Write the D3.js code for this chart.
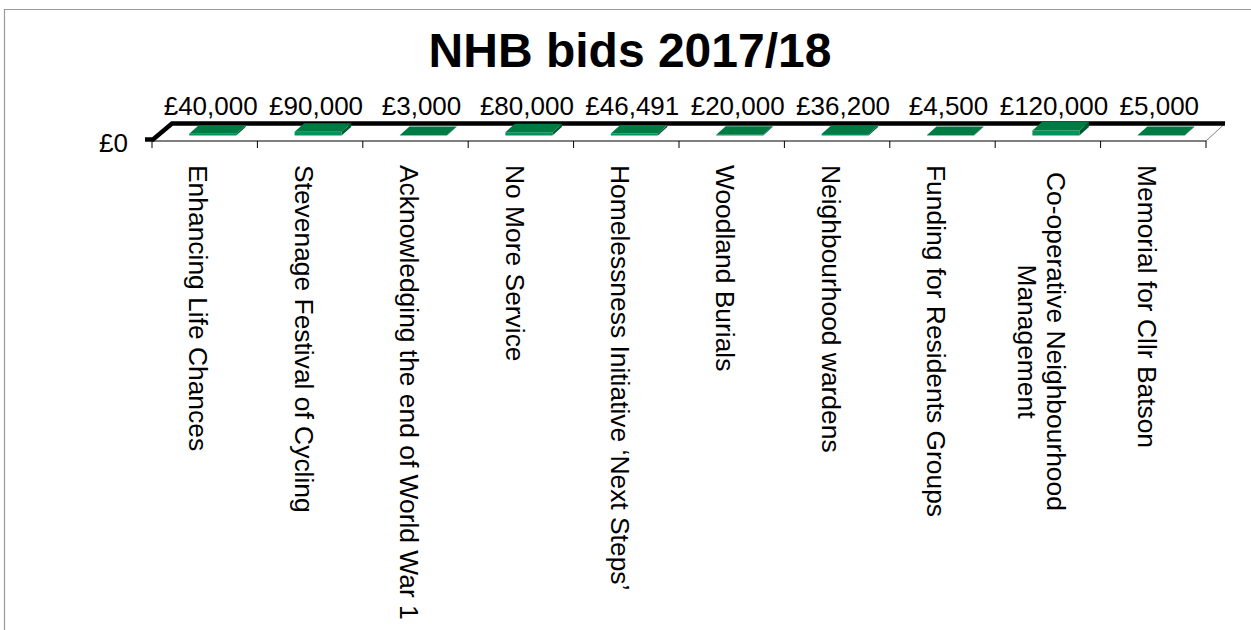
<!DOCTYPE html>
<html>
<head>
<meta charset="utf-8">
<script src="https://cdn.jsdelivr.net/npm/d3@7"></script>
<style>
  html, body { margin: 0; padding: 0; background: #fff; }
  svg { display: block; font-family: Arial, "Liberation Sans", sans-serif; }
</style>
</head>
<body>
<svg id="chart" width="1251" height="630"></svg>
<script>
// ---- data ----
const title = "NHB bids 2017/18";
const categories = [
  "Enhancing Life Chances",
  "Stevenage Festival of Cycling",
  "Acknowledging the end of World War 1",
  "No More Service",
  "Homelessness Initiative \u2018Next Steps\u2019",
  "Woodland Burials",
  "Neighbourhood wardens",
  "Funding for Residents Groups",
  "Co-operative Neighbourhood\nManagement",
  "Memorial for Cllr Batson"
];
const values = [40000, 90000, 3000, 80000, 46491, 20000, 36200, 4500, 120000, 5000];
const valueTicks = [0];

// ---- layout ----
const W = 1251, H = 630;
const svg = d3.select("#chart");
const fmt = v => "\u00a3" + d3.format(",")(v);

const x0 = 152, x1 = 1206, floorY = 141;
const depth = { dx: 19, dy: -17.5 };
const barFront = { dx: 8, dy: -5.5 };
const barDepth = { dx: 9.5, dy: -8.5 };

const x = d3.scaleBand().domain(categories).range([x0, x1]).paddingInner(0).paddingOuter(0);
const hScale = d3.scaleLinear().domain([0, 120000]).range([0, 5]);

// frame
svg.append("path")
  .attr("d", `M4.5,${H} L4.5,9.5 L${W},9.5`)
  .attr("fill", "none").attr("stroke", "#9a9a9a").attr("stroke-width", 1.2);

// title
svg.append("text")
  .attr("x", 630).attr("y", 67)
  .attr("text-anchor", "middle")
  .attr("font-size", 48).attr("font-weight", "bold")
  .attr("fill", "#000")
  .text(title);

// floor front edge
svg.append("line")
  .attr("x1", x0).attr("x2", x1).attr("y1", floorY).attr("y2", floorY)
  .attr("stroke", "#000").attr("stroke-width", 1.2);

// right floor edge (gray)
svg.append("line")
  .attr("x1", x1).attr("y1", floorY).attr("x2", x1 + depth.dx).attr("y2", floorY + depth.dy)
  .attr("stroke", "#808080").attr("stroke-width", 1);

// thick back/left edge
svg.append("path")
  .attr("d", `M145,139.5 L${x0 + 1},139.5 L${x0 + depth.dx + 1},${floorY + depth.dy} L${x1 + depth.dx},${floorY + depth.dy}`)
  .attr("fill", "none").attr("stroke", "#000").attr("stroke-width", 4.5)
  .attr("stroke-linejoin", "miter");

// category tick marks at band boundaries
const bounds = categories.map(c => x(c)).concat([x1]);
svg.append("g").selectAll("line").data(bounds).join("line")
  .attr("x1", d => d).attr("x2", d => d)
  .attr("y1", floorY).attr("y2", floorY + 7)
  .attr("stroke", "#000").attr("stroke-width", 1);

// value axis label
svg.append("g").selectAll("text").data(valueTicks).join("text")
  .attr("x", 128).attr("y", d => 152 - hScale(d))
  .attr("text-anchor", "end")
  .attr("font-size", 26)
  .text(d => fmt(d));

// bars (flat 3D boxes)
const bw = 47;
const bars = svg.append("g");
categories.forEach((c, i) => {
  const v = values[i];
  const h = Math.max(hScale(v), 0.6);
  const cx = x(c) + x.bandwidth() / 2;
  const fl = cx - bw / 2 + barFront.dx;
  const fr = fl + bw;
  const fb = floorY + barFront.dy;   // front bottom
  const ft = fb - h;                 // front top
  const bdx = barDepth.dx, bdy = barDepth.dy;
  bars.append("path")
    .attr("d", `M${fr},${fb} L${fr + bdx},${fb + bdy} L${fr + bdx},${ft + bdy} L${fr},${ft} Z`)
    .attr("fill", "#005a30");
  bars.append("path")
    .attr("d", `M${fl},${fb} L${fr},${fb} L${fr},${ft} L${fl},${ft} Z`)
    .attr("fill", "#00935a");
  bars.append("path")
    .attr("d", `M${fl},${ft} L${fr},${ft} L${fr + bdx},${ft + bdy} L${fl + bdx},${ft + bdy} Z`)
    .attr("fill", "#007a43");
});

// data labels
svg.append("g").selectAll("text").data(categories).join("text")
  .attr("x", c => x(c) + x.bandwidth() / 2 + 6)
  .attr("y", 115)
  .attr("text-anchor", "middle")
  .attr("font-size", 26)
  .text((c, i) => fmt(values[i]));

// category labels (rotated, reading top to bottom)
const labStart = 165, lineH = 28.5;
const lg = svg.append("g");
categories.forEach(c => {
  const lines = c.split("\n");
  const cx = x(c) + x.bandwidth() / 2 - 6;
  const t = lg.append("text")
    .attr("font-size", 26.4)
    .attr("text-anchor", "middle");
  lines.forEach((ln, j) => {
    t.append("tspan").attr("x", 0).attr("y", (j - (lines.length - 1) / 2) * lineH).attr("dy", "0.35em").text(ln);
  });
  let maxW = 0;
  t.selectAll("tspan").each(function () { maxW = Math.max(maxW, this.getComputedTextLength()); });
  const start = lines.length > 1 ? labStart + 7 : labStart;
  t.attr("transform", `translate(${cx},${start + maxW / 2}) rotate(90)`);
});
</script>
</body>
</html>
